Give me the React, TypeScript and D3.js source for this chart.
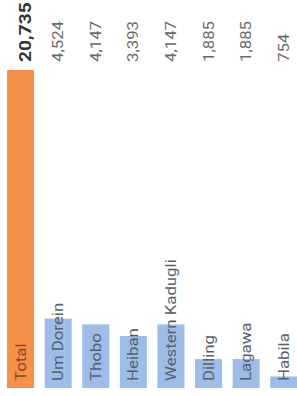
import React from "react";
import * as d3 from "d3";

const categories = ["Total", "Um Dorein", "Thobo", "Heiban", "Western Kadugli", "Dilling", "Lagawa", "Habila"];
const values = [20735, 4524, 4147, 3393, 4147, 1885, 1885, 754];

const W = 297;
const H = 396;

export default function App() {
  const x = d3.scaleBand<string>().domain(categories).range([7, 297.3]).paddingInner(0.28).paddingOuter(0);
  const y = d3.scaleLinear().domain([0, d3.max(values) as number]).range([388, 70]);
  const fmt = d3.format(",");
  const font = "Roboto, 'Noto Sans', sans-serif";
  return (
    <svg width={W} height={H} style={{ position: "absolute", left: 0, top: 0, background: "#fff" }}>
      {categories.map((c, i) => {
        const bx = x(c) as number;
        const bw = x.bandwidth();
        const cx = bx + bw / 2;
        const isTotal = i === 0;
        return (
          <g key={c}>
            <rect x={bx} y={y(values[i])} width={bw} height={y(0) - y(values[i])} fill={isTotal ? "#F5914B" : "#9DBDE8"} />
            <text
              transform={`translate(${cx + (isTotal ? 10 : 5)},62) rotate(-90) scale(1.2,1)`}
              fontFamily={font}
              fontSize={isTotal ? 16 : 14}
              fontWeight={isTotal ? 700 : 400}
              fill={isTotal ? "#333" : "#6a6a6a"}
              textAnchor="start"
            >
              {fmt(values[i])}
            </text>
            <text
              transform={`translate(${cx + 5},381) rotate(-90) scale(1.2,1)`}
              fontFamily={font}
              fontSize={14}
              fill={isTotal ? "#8a4a20" : "#56606c"}
              textAnchor="start"
            >
              {c}
            </text>
          </g>
        );
      })}
    </svg>
  );
}
